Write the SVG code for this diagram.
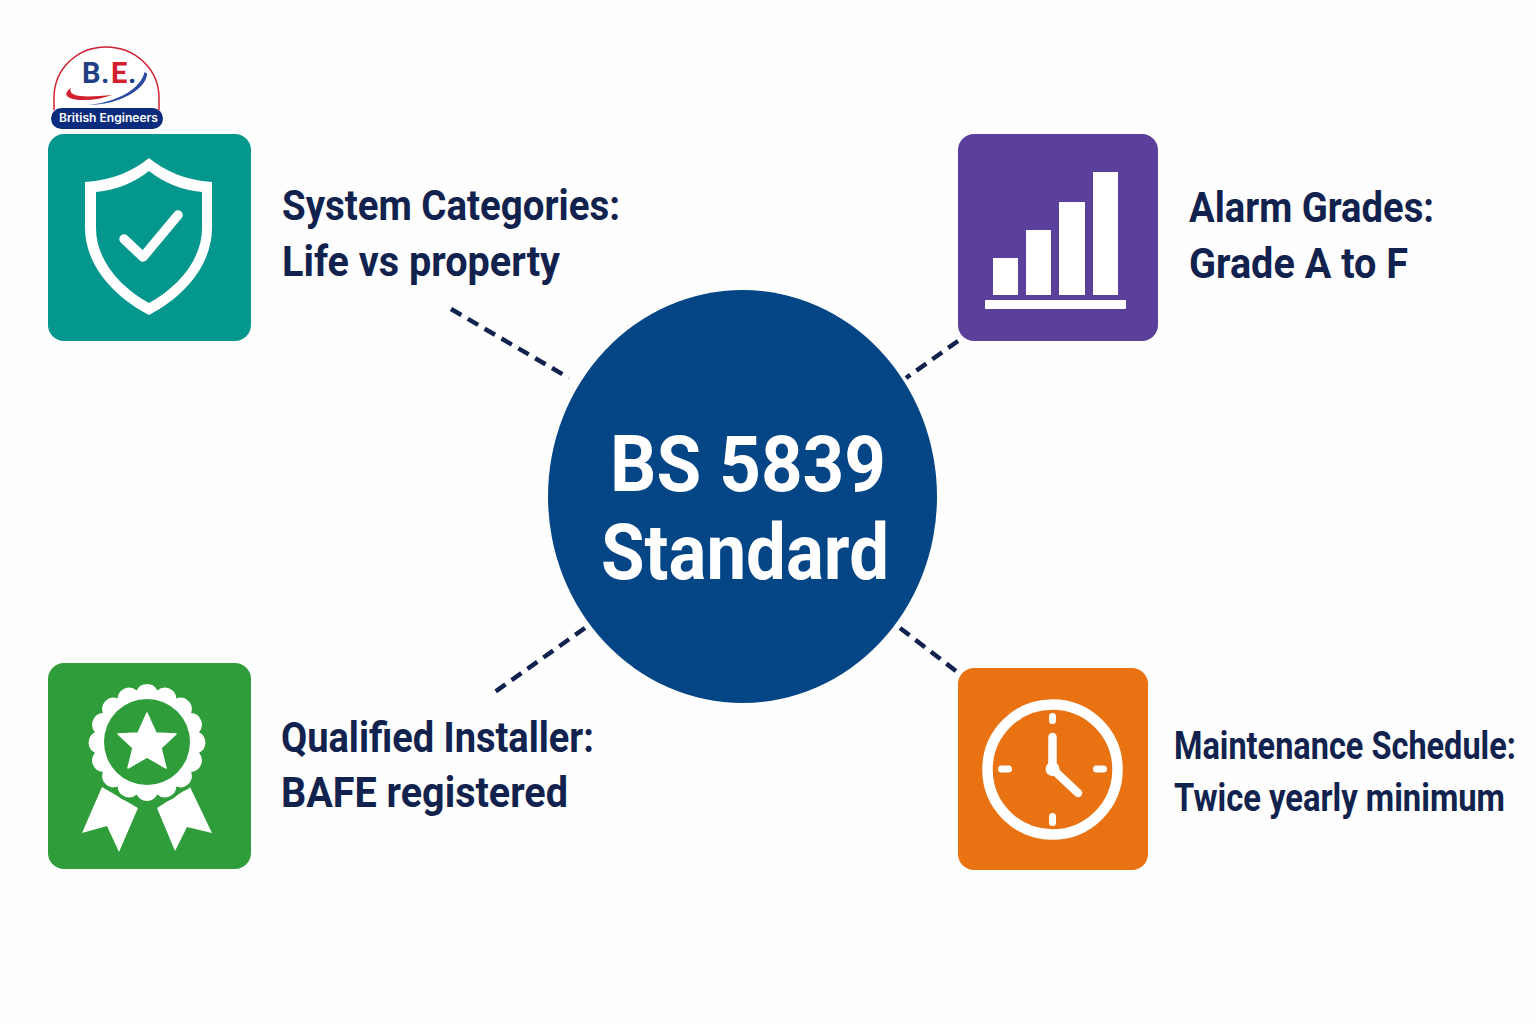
<svg xmlns="http://www.w3.org/2000/svg" width="1536" height="1024" viewBox="0 0 1536 1024">
<style>
.lab{font-family:"Roboto","Liberation Sans",sans-serif;font-weight:700;fill:#10224d;font-size:42px}
.lab2{font-family:"Roboto","Liberation Sans",sans-serif;font-weight:700;fill:#10224d;font-size:38px}
.ctr{font-family:"Roboto","Liberation Sans",sans-serif;font-weight:700;fill:#fff;font-size:78px;text-anchor:middle}
.dash{fill:none;stroke:#10224d;stroke-width:4.5;stroke-dasharray:12 7.5}
.w{fill:#fff}
.ws{fill:none;stroke:#fff;stroke-linecap:round;stroke-linejoin:round}
</style>
<rect width="1536" height="1024" fill="#fefefe"/>
<g id="connectors">
<path class="dash" d="M451 309L569 378"/>
<path class="dash" d="M958 341L906 378"/>
<path class="dash" d="M585 628L492 694"/>
<path class="dash" d="M900 628L956 671"/>
</g>
<g id="center"><ellipse cx="742.500" cy="496.500" rx="194.500" ry="206.500" fill="#044586"/>
<text class="ctr" x="748" y="491" textLength="276" lengthAdjust="spacingAndGlyphs">BS 5839</text>
<text class="ctr" x="745" y="579" textLength="288" lengthAdjust="spacingAndGlyphs">Standard</text></g>
<g id="logo">
<path d="M54 110V98C54 68 78 47 106 47C134 47 159 68 159 98V110" fill="#fff" stroke="#d3202f" stroke-width="1.500"/>
<text y="83" font-family="Roboto,'Liberation Sans',sans-serif" font-weight="700" font-size="29" fill="#1f3f86"><tspan x="82">B</tspan><tspan x="101">.</tspan><tspan x="111" fill="#d3202f">E</tspan><tspan x="128">.</tspan></text>
<path d="M71 88C62 94 66 100 84 100C94 100 104 98 112 95C100 96 88 97 80 96C72 95 69 92 71 88Z" fill="#d3202f"/>
<path d="M88 105C112 103 138 92 144 74C143 72 147 72 147 74C146 90 118 105 88 105Z" fill="#2a4ba0"/>
<rect x="51" y="108" width="112" height="21" rx="10.500" fill="#0b2b7c"/>
<text x="59" y="122" font-family="Inter,'Liberation Sans',sans-serif" font-weight="600" font-size="11.500" fill="#fff" textLength="99" lengthAdjust="spacingAndGlyphs">British Engineers</text>
</g>
<g id="node-system">
<rect x="48" y="134" width="203" height="207" rx="16" fill="#04978e"/>
<path class="w" fill-rule="evenodd" d="M149 158C165 171 185 180 212 182V228C212 265 184 297 149 315C114 297 85 265 85 228V182C113 180 133 171 149 158ZM149 171C135 182 117 190 96 192V228C96 260 120 287 149 303C178 287 202 260 202 228V192C181 190 163 182 149 171Z"/>
<path class="ws" stroke-width="9.500" d="M124 239L143 257L178 215"/>
<text class="lab" x="282" y="220" textLength="338" lengthAdjust="spacingAndGlyphs">System Categories:</text>
<text class="lab" x="282" y="276" textLength="278" lengthAdjust="spacingAndGlyphs">Life vs property</text>
</g>
<g id="node-alarm">
<rect x="958" y="134" width="200" height="207" rx="16" fill="#5a3f9b"/>
<rect class="w" x="993" y="258" width="25" height="37"/>
<rect class="w" x="1026" y="230" width="25" height="65"/>
<rect class="w" x="1059" y="202" width="26" height="93"/>
<rect class="w" x="1093" y="172" width="25" height="123"/>
<rect class="w" x="985" y="300" width="141" height="9" rx="1"/>
<text class="lab" x="1189" y="222" textLength="245" lengthAdjust="spacingAndGlyphs">Alarm Grades:</text>
<text class="lab" x="1189" y="278" textLength="219" lengthAdjust="spacingAndGlyphs">Grade A to F</text>
</g>
<g id="node-installer">
<rect x="48" y="663" width="203" height="206" rx="16" fill="#2f9e3a"/>
<path class="w" d="M102 787L82 833L107 826L119 852L138 808ZM190 787L212 833L187 827L175 851L157 808Z"/>
<path class="w" stroke="#2f9e3a" stroke-width="7" paint-order="stroke" d="M157.300 690.500A11.500 11.500 0 0 1 176.400 698.400A11.500 11.500 0 0 1 191.100 713.100A11.500 11.500 0 0 1 199 732.200A11.500 11.500 0 0 1 199 752.800A11.500 11.500 0 0 1 191.100 771.900A11.500 11.500 0 0 1 176.400 786.600A11.500 11.500 0 0 1 157.300 794.500A11.500 11.500 0 0 1 136.700 794.500A11.500 11.500 0 0 1 117.600 786.600A11.500 11.500 0 0 1 102.900 771.900A11.500 11.500 0 0 1 95 752.800A11.500 11.500 0 0 1 95 732.200A11.500 11.500 0 0 1 102.900 713.100A11.500 11.500 0 0 1 117.600 698.400A11.500 11.500 0 0 1 136.700 690.500A11.500 11.500 0 0 1 157.300 690.500Z"/>
<circle cx="147" cy="742" r="43" fill="#2f9e3a"/>
<path class="w" d="M147 713L156 733L176 734L161 748L166 768L147 757L128 768L133 748L118 734L138 733Z" stroke="#fff" stroke-width="1.500" stroke-linejoin="round"/>
<text class="lab" x="281" y="752" textLength="313" lengthAdjust="spacingAndGlyphs">Qualified Installer:</text>
<text class="lab" x="281" y="807" textLength="287" lengthAdjust="spacingAndGlyphs">BAFE registered</text>
</g>
<g id="node-maintenance">
<rect x="958" y="668" width="190" height="202" rx="16" fill="#e97312"/>
<circle cx="1052.500" cy="769.500" r="65" fill="none" stroke="#fff" stroke-width="10.500"/>
<path class="ws" stroke-width="7" d="M1052.500 716.500V720.500M1052.500 816.500V822.500M1001.500 769H1008.500M1096.500 769H1103.500"/>
<path class="ws" stroke-width="8.500" d="M1052.500 737V769L1078 793"/>
<circle class="w" cx="1052.500" cy="769" r="7"/>
<text class="lab2" transform="translate(1174 759) scale(.84 1)" textLength="407" lengthAdjust="spacingAndGlyphs">Maintenance Schedule:</text>
<text class="lab2" transform="translate(1174 811) scale(.84 1)" textLength="394" lengthAdjust="spacingAndGlyphs">Twice yearly minimum</text>
</g>
</svg>
